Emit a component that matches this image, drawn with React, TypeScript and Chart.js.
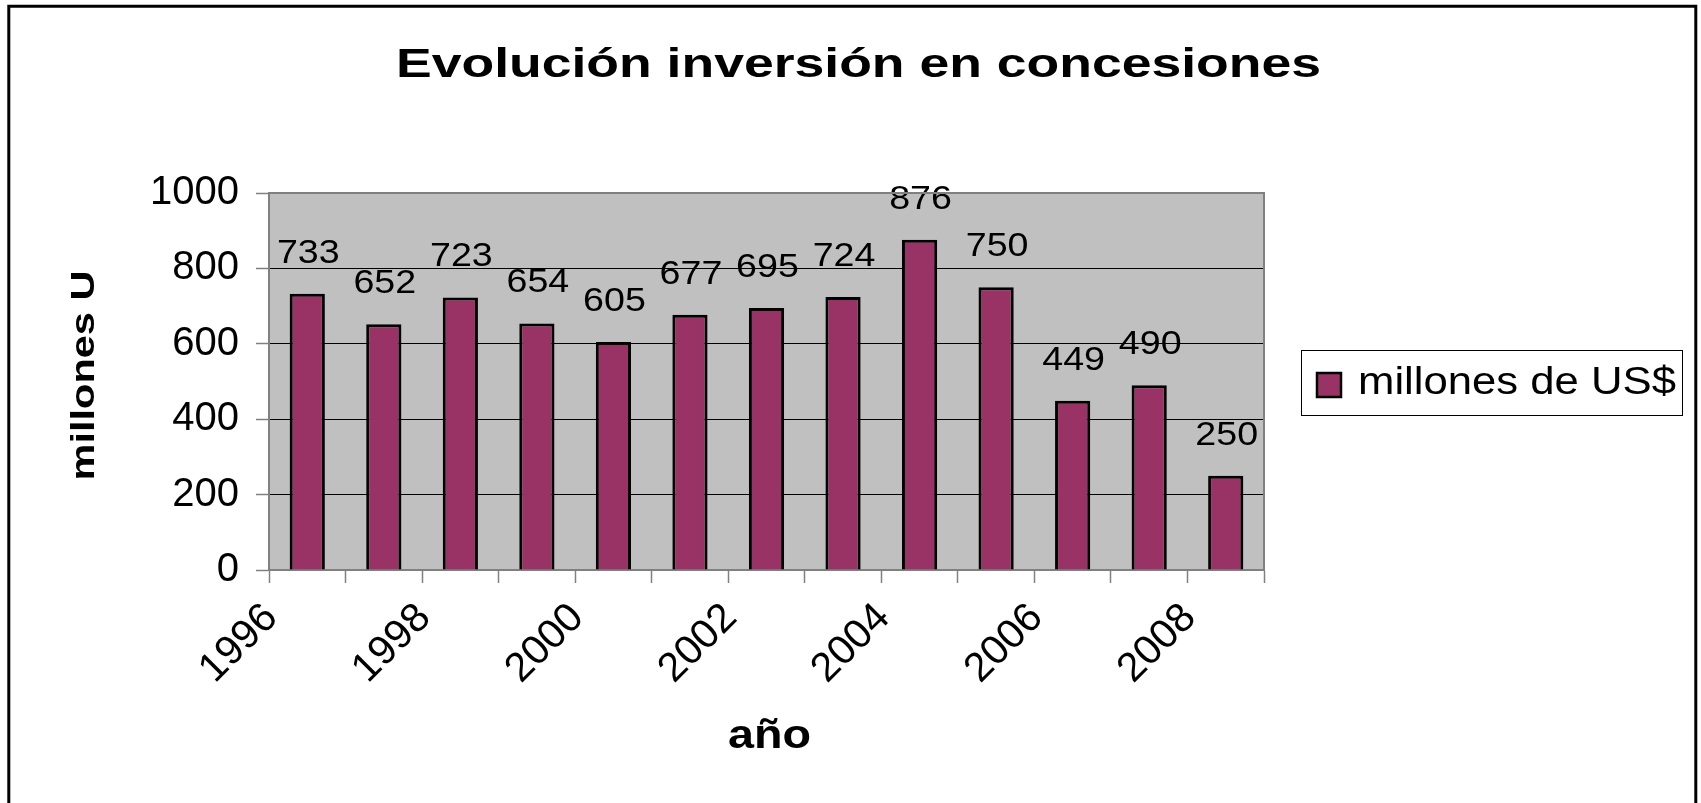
import { useEffect, useRef } from 'react';
import { Chart, registerables } from 'chart.js';

Chart.register(...registerables);

// ---- data ----
const years = ['1996', '1997', '1998', '1999', '2000', '2001', '2002', '2003', '2004', '2005', '2006', '2007', '2008'];
const investment = [733, 652, 723, 654, 605, 677, 695, 724, 876, 750, 449, 490, 250];
const xTickLabels = ['1996', '1998', '2000', '2002', '2004', '2006', '2008'];
const yTickValues = [0, 200, 400, 600, 800, 1000];
const chartTitle = 'Evolución inversión en concesiones';
const yAxisTitle = 'millones U';
const xAxisTitle = 'año';
const seriesLabel = 'millones de US$';

const FONT = "'Liberation Sans', Arial, Helvetica, sans-serif";
const BAR_COLOR = '#993366';

function drawText(
  ctx: CanvasRenderingContext2D,
  text: string,
  x: number,
  y: number,
  font: string,
  opts: { sx?: number; width?: number; align?: CanvasTextAlign; rotate?: number } = {}
) {
  ctx.save();
  ctx.font = font;
  ctx.fillStyle = '#000';
  ctx.textBaseline = 'alphabetic';
  ctx.textAlign = opts.align || 'center';
  let sx = opts.sx || 1;
  if (opts.width) sx = opts.width / ctx.measureText(text).width;
  ctx.translate(x, y);
  if (opts.rotate) ctx.rotate(opts.rotate);
  ctx.scale(sx, 1);
  ctx.fillText(text, 0, 0);
  ctx.restore();
}

const decor = {
  id: 'decor',
  beforeDraw(chart: any) {
    const { ctx, chartArea: a } = chart;
    ctx.save();
    ctx.fillStyle = '#ffffff';
    ctx.fillRect(0, 0, chart.width, chart.height);
    ctx.fillStyle = '#C0C0C0';
    ctx.fillRect(a.left, a.top, a.right - a.left, a.bottom - a.top);
    ctx.restore();
  },
  afterDatasetsDraw(chart: any) {
    const { ctx } = chart;
    const meta = chart.getDatasetMeta(0);
    meta.data.forEach((el: any, i: number) => {
      drawText(ctx, String(investment[i]), el.x + 1, el.y - 31, `33px ${FONT}`, { sx: 1.14 });
    });
  },
  afterDraw(chart: any) {
    const { ctx, chartArea: a } = chart;
    ctx.save();
    // plot area top / right border
    ctx.strokeStyle = '#808080';
    ctx.lineWidth = 2;
    ctx.beginPath();
    ctx.moveTo(a.left, a.top);
    ctx.lineTo(a.right, a.top);
    ctx.lineTo(a.right, a.bottom);
    ctx.stroke();
    // outer frame
    ctx.strokeStyle = '#000';
    ctx.lineWidth = 3;
    ctx.beginPath();
    ctx.moveTo(8.8, 815);
    ctx.lineTo(8.8, 6.2);
    ctx.lineTo(1695.8, 6.2);
    ctx.lineTo(1695.8, 815);
    ctx.stroke();
    // legend box
    ctx.strokeStyle = '#000';
    ctx.lineWidth = 1;
    ctx.strokeRect(1301.5, 350.5, 381, 65);
    ctx.fillStyle = BAR_COLOR;
    ctx.fillRect(1317, 373, 24, 24);
    ctx.lineWidth = 2.5;
    ctx.strokeRect(1317, 373, 24, 24);
    ctx.restore();

    drawText(ctx, seriesLabel, 1358, 394, `39px ${FONT}`, { width: 318, align: 'left' });
    // title
    drawText(ctx, chartTitle, 858.5, 77, `bold 41px ${FONT}`, { width: 925 });
    // axis titles
    drawText(ctx, yAxisTitle, 94, 375.5, `bold 34px ${FONT}`, { width: 210, rotate: -Math.PI / 2 });
    drawText(ctx, xAxisTitle, 769.5, 748, `bold 40px ${FONT}`, { width: 83 });
  },
};

export default function App() {
  const ref = useRef<HTMLCanvasElement>(null);

  useEffect(() => {
    const canvas = ref.current;
    if (!canvas) return;
    const chart = new Chart(canvas, {
      type: 'bar',
      data: {
        labels: years,
        datasets: [
          {
            label: seriesLabel,
            data: investment,
            backgroundColor: BAR_COLOR,
            borderColor: '#000',
            borderWidth: 3,
            barPercentage: 0.46,
            categoryPercentage: 1,
          },
        ],
      },
      options: {
        responsive: false,
        animation: false,
        devicePixelRatio: 1,
        layout: { padding: { left: 139, right: 437, top: 193, bottom: 83 } },
        plugins: {
          legend: { display: false },
          title: { display: false },
          tooltip: { enabled: false },
        },
        scales: {
          x: {
            offset: true,
            grid: {
              offset: true,
              drawOnChartArea: false,
              drawTicks: true,
              tickLength: 13,
              tickColor: '#808080',
              tickWidth: 1.5,
            },
            border: { color: '#808080', width: 2 },
            ticks: {
              autoSkip: false,
              minRotation: 45,
              maxRotation: 45,
              labelOffset: -36,
              padding: 11,
              color: '#000',
              font: { family: FONT, size: 41 },
              callback: (_v: any, index: number) =>
                xTickLabels.includes(years[index]) ? years[index] : '',
            },
            afterFit: (s: any) => {
              s.height = 150;
            },
          },
          y: {
            min: yTickValues[0],
            max: yTickValues[yTickValues.length - 1],
            ticks: {
              stepSize: yTickValues[1] - yTickValues[0],
              padding: 17,
              color: '#000',
              font: { family: FONT, size: 40 },
              callback: (v: any) => String(v),
            },
            grid: {
              color: (c: any) =>
                c.tick && (c.tick.value === yTickValues[0] || c.tick.value === yTickValues[yTickValues.length - 1])
                  ? 'rgba(0,0,0,0)'
                  : '#000',
              lineWidth: 1,
              tickColor: '#808080',
              tickLength: 13,
              tickWidth: 1.5,
            },
            border: { color: '#808080', width: 2 },
            afterFit: (s: any) => {
              s.width = 130;
            },
          },
        },
      },
      plugins: [decor],
    } as any);
    return () => chart.destroy();
  }, []);

  return (
    <div style={{ position: 'fixed', left: 0, top: 0, width: 1701, height: 803, background: '#fff' }}>
      <canvas ref={ref} width={1701} height={803} style={{ display: 'block', width: 1701, height: 803 }} />
    </div>
  );
}
